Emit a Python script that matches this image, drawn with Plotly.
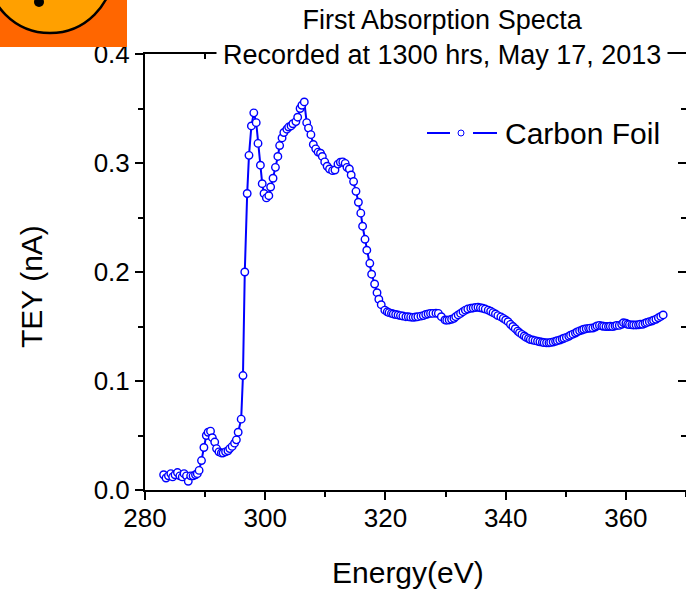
import plotly.graph_objects as go

# ---- data ----
energy_eV = [
    283.1, 283.5, 283.9, 284.3, 284.6, 285.0, 285.4, 285.8, 286.2, 286.5,
    286.9, 287.2, 287.6, 288.0, 288.4, 288.7, 289.0, 289.4, 289.8, 290.2,
    290.5, 290.9, 291.2, 291.6, 291.9, 292.3, 292.7, 293.0, 293.4, 293.8,
    294.1, 294.5, 294.9, 295.2, 295.5, 296.0, 296.3, 296.6, 297.0, 297.3,
    297.7, 298.1, 298.5, 298.8, 299.2, 299.5, 299.8, 300.2, 300.6, 300.9,
    301.3, 301.7, 302.1, 302.4, 302.8, 303.1, 303.6, 303.9, 304.3, 304.6,
    305.1, 305.4, 305.8, 306.1, 306.5, 306.9, 307.2, 307.6, 308.0, 308.4,
    308.8, 309.2, 309.5, 309.9, 310.3, 310.7, 311.2, 311.6, 312.1, 312.5,
    312.9, 313.3, 313.6, 314.0, 314.3, 314.7, 315.1, 315.5, 315.9, 316.2,
    316.6, 316.9, 317.4, 317.7, 318.2, 318.6, 318.9, 319.3, 319.9, 320.3,
    320.6, 321.0, 321.3, 321.7, 322.1, 322.5, 322.9, 323.4, 323.8, 324.2,
    324.6, 325.0, 325.4, 325.9, 326.3, 326.7, 327.1, 327.5, 327.9, 328.4,
    328.8, 329.3, 329.9, 330.2, 330.6, 331.0, 331.4, 331.7, 332.1, 332.5,
    332.9, 333.3, 333.7, 334.2, 334.6, 335.0, 335.4, 335.8, 336.2, 336.6,
    337.1, 337.5, 337.9, 338.3, 338.7, 339.2, 339.6, 340.0, 340.4, 340.8,
    341.2, 341.6, 342.0, 342.3, 342.7, 343.1, 343.4, 343.8, 344.1, 344.5,
    344.9, 345.3, 345.7, 346.1, 346.4, 346.8, 347.2, 347.5, 347.9, 348.3,
    348.6, 349.0, 349.4, 349.7, 350.1, 350.5, 350.8, 351.2, 351.6, 351.9,
    352.3, 352.7, 353.0, 353.4, 353.8, 354.1, 354.5, 354.9, 355.2, 355.6,
    356.0, 356.3, 356.7, 357.1, 357.4, 357.8, 358.2, 358.5, 358.9, 359.3,
    359.6, 360.0, 360.3, 360.6, 361.0, 361.3, 361.7, 362.1, 362.4, 362.8,
    363.2, 363.5, 363.9, 364.3, 364.6, 365.0, 365.4, 365.8, 366.2,
]
tey_nA = [
    0.014, 0.011, 0.013, 0.015, 0.012, 0.014, 0.016, 0.013, 0.012, 0.015,
    0.013, 0.008, 0.013, 0.013, 0.014, 0.015, 0.018, 0.027, 0.039, 0.050,
    0.053, 0.054, 0.048, 0.044, 0.038, 0.035, 0.034, 0.034, 0.035, 0.036,
    0.038, 0.040, 0.043, 0.046, 0.053, 0.065, 0.105, 0.200, 0.272, 0.307,
    0.334, 0.346, 0.337, 0.318, 0.298, 0.281, 0.272, 0.268, 0.270, 0.278,
    0.286, 0.296, 0.306, 0.316, 0.323, 0.328, 0.331, 0.333, 0.334, 0.336,
    0.338, 0.342, 0.350, 0.353, 0.356, 0.337, 0.332, 0.326, 0.317, 0.313,
    0.310, 0.309, 0.306, 0.301, 0.297, 0.2945, 0.293, 0.2936, 0.299, 0.3007,
    0.301, 0.2997, 0.296, 0.2945, 0.289, 0.283, 0.274, 0.264, 0.254, 0.242,
    0.230, 0.220, 0.208, 0.198, 0.189, 0.181, 0.175, 0.170, 0.165, 0.1635,
    0.1627, 0.162, 0.1615, 0.161, 0.1606, 0.160, 0.1596, 0.159, 0.159, 0.1586,
    0.1584, 0.1587, 0.159, 0.1595, 0.160, 0.161, 0.1615, 0.162, 0.162, 0.1622,
    0.162, 0.159, 0.156, 0.1558, 0.156, 0.1566, 0.1575, 0.159, 0.1606, 0.162,
    0.1636, 0.165, 0.166, 0.1667, 0.167, 0.1675, 0.1676, 0.1672, 0.1667, 0.166,
    0.165, 0.164, 0.1627, 0.1615, 0.160, 0.1588, 0.1575, 0.156, 0.1544, 0.152,
    0.150, 0.148, 0.1458, 0.1443, 0.1428, 0.1413, 0.140, 0.139, 0.138, 0.1376,
    0.137, 0.1365, 0.136, 0.1356, 0.1352, 0.1351, 0.135, 0.1354, 0.1358, 0.1364,
    0.137, 0.1376, 0.1385, 0.1392, 0.140, 0.141, 0.142, 0.143, 0.144, 0.145,
    0.146, 0.1468, 0.1475, 0.148, 0.1483, 0.1485, 0.1486, 0.1495, 0.1505, 0.151,
    0.1505, 0.1502, 0.150, 0.150, 0.1502, 0.150, 0.1505, 0.151, 0.151, 0.152,
    0.1535, 0.153, 0.152, 0.1517, 0.1515, 0.1514, 0.1514, 0.1516, 0.152, 0.152,
    0.153, 0.1537, 0.1544, 0.155, 0.1558, 0.1566, 0.158, 0.1592, 0.1606,
]
series_name = "Carbon Foil"
title_lines = ["First Absorption Specta", "Recorded at 1300 hrs, May 17, 2013"]
x_title = "Energy(eV)"
y_title = "TEY (nA)"
x_range = [280, 370]
y_range = [0, 0.4]

# ---- layout geometry (pixels) ----
W, H = 686, 592
L, R, T, B = 145, 0, 54, 102
PW, PH = W - L - R, H - T - B


def px2x(px):
    return (px - L) / PW


def py2y(py):
    return (H - B - py) / PH


FONT = "Arial, Liberation Sans, sans-serif"
BLUE = "#0000FF"

fig = go.Figure()
fig.add_trace(go.Scatter(
    x=energy_eV, y=tey_nA, mode="lines+markers", name=series_name,
    line=dict(color=BLUE, width=2),
    marker=dict(symbol="circle", size=7.5, color="white",
                line=dict(color=BLUE, width=1.4)),
    showlegend=False, hoverinfo="skip",
))
# empty trace to realise the mirrored (top/right) axes
fig.add_trace(go.Scatter(x=[], y=[], xaxis="x2", yaxis="y2",
                         showlegend=False, hoverinfo="skip"))

axis_common = dict(showgrid=False, zeroline=False, showline=True,
                   linecolor="black", linewidth=2, tickcolor="black",
                   tickwidth=2, ticklen=8,
                   tickfont=dict(family=FONT, size=26, color="black"))

fig.update_layout(
    width=W, height=H, autosize=False,
    margin=dict(l=L, r=R, t=T, b=B, pad=0),
    paper_bgcolor="white", plot_bgcolor="white",
    font=dict(family=FONT, color="black"),
    xaxis=dict(range=x_range, dtick=20, tick0=280, ticks="outside",
               ticklabelstandoff=-4,
               minor=dict(dtick=10, ticks="outside", ticklen=5,
                          tickwidth=2, tickcolor="black"),
               **axis_common),
    yaxis=dict(range=y_range, dtick=0.1, tick0=0, ticks="outside",
               tickformat=".1f",
               minor=dict(dtick=0.05, ticks="outside", ticklen=5,
                          tickwidth=2, tickcolor="black"),
               **axis_common),
    xaxis2=dict(range=x_range, dtick=20, tick0=280, ticks="inside",
                overlaying="x", side="top", anchor="y2",
                showticklabels=False,
                minor=dict(dtick=10, ticks="inside", ticklen=5,
                           tickwidth=2, tickcolor="black"),
                **axis_common),
    yaxis2=dict(range=y_range, dtick=0.1, tick0=0, ticks="inside",
                overlaying="y", side="right", anchor="x2",
                showticklabels=False,
                minor=dict(dtick=0.05, ticks="inside", ticklen=5,
                           tickwidth=2, tickcolor="black"),
                **axis_common),
)

annotations = [
    dict(text="<br>".join(title_lines), xref="paper", yref="paper",
         x=px2x(442), y=py2y(37.5), xanchor="center", yanchor="middle",
         showarrow=False, bgcolor="white", borderpad=6,
         font=dict(family=FONT, size=27, color="black")),
    dict(text=y_title, xref="paper", yref="paper", x=px2x(31), y=py2y(287),
         xanchor="center", yanchor="middle", textangle=-90, showarrow=False,
         font=dict(family=FONT, size=30, color="black")),
    dict(text=x_title, xref="paper", yref="paper", x=px2x(408), y=py2y(572),
         xanchor="center", yanchor="middle", showarrow=False,
         font=dict(family=FONT, size=30, color="black")),
    dict(text=series_name, xref="paper", yref="paper", x=px2x(503),
         y=py2y(133), xanchor="left", yanchor="middle", showarrow=False,
         font=dict(family=FONT, size=30, color="black")),
]
fig.update_layout(annotations=annotations)

shapes = [
    # legend sample
    dict(type="line", xref="paper", yref="paper", x0=px2x(427), x1=px2x(450),
         y0=py2y(133), y1=py2y(133), line=dict(color=BLUE, width=2)),
    dict(type="line", xref="paper", yref="paper", x0=px2x(473), x1=px2x(497),
         y0=py2y(133), y1=py2y(133), line=dict(color=BLUE, width=2)),
    dict(type="circle", xref="paper", yref="paper", x0=px2x(458),
         x1=px2x(464), y0=py2y(136), y1=py2y(130), fillcolor="white",
         line=dict(color=BLUE, width=1)),
    # logo fragment in the top-left corner
    dict(type="rect", xref="paper", yref="paper", x0=px2x(-2), x1=px2x(127),
         y0=py2y(47), y1=py2y(-2), fillcolor="#FF6600",
         line=dict(width=0), layer="above"),
    dict(type="circle", xref="paper", yref="paper", x0=px2x(-13),
         x1=px2x(113), y0=py2y(33), y1=py2y(-93), fillcolor="#FFA000",
         line=dict(color="black", width=2.5), layer="above"),
    dict(type="circle", xref="paper", yref="paper", x0=px2x(34),
         x1=px2x(44), y0=py2y(7), y1=py2y(-3), fillcolor="black",
         line=dict(width=0), layer="above"),
]
fig.update_layout(shapes=shapes)

fig.write_html("out.html")
